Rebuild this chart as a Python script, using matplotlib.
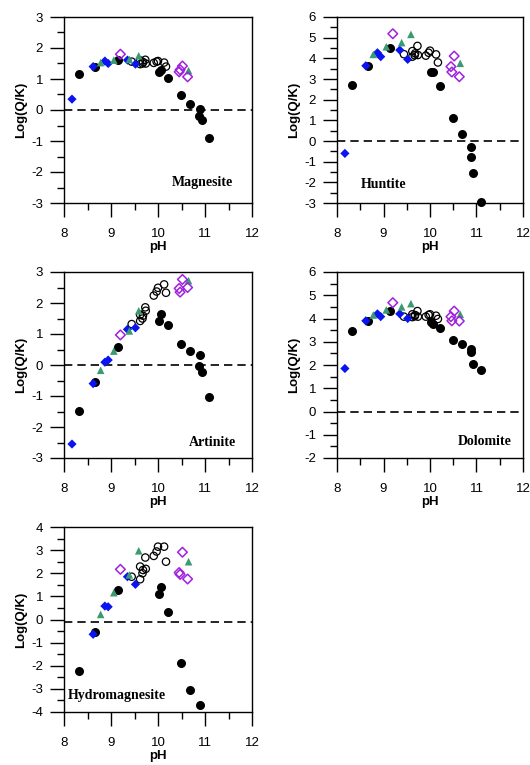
import numpy as np
import matplotlib
matplotlib.use("Agg")
import matplotlib.pyplot as plt
from matplotlib.ticker import MultipleLocator

plt.rcParams["font.family"] = ["Liberation Sans", "DejaVu Sans"]
plt.rcParams["axes.unicode_minus"] = False

nan = np.nan

# pH of each sample group (shared by all panels)
ph_filled = [8.32, 8.67, 9.14, 10.02, 10.07, 10.21, 10.49, 10.69, 10.89, 10.88, 10.93, 11.09]
ph_open = [9.44, 9.62, 9.62, 9.67, 9.68, 9.74, 9.73, 9.91, 9.97, 10.0, 10.13, 10.17]
ph_blue = [8.17, 8.62, 8.87, 8.94, 9.35, 9.52]
ph_green = [8.78, 9.06, 9.39, 9.59, 10.65]
ph_purple = [9.2, 10.45, 10.47, 10.52, 10.63]

# Log(Q/K) per mineral
mag_filled = [1.16, 1.4, 1.61, 1.24, 1.29, 1.02, 0.49, 0.18, 0.02, -0.19, -0.32, -0.89]
mag_open = [1.56, 1.48, 1.6, 1.5, 1.55, 1.5, 1.62, 1.52, 1.56, 1.58, 1.53, 1.4]
mag_blue = [0.35, 1.4, 1.58, 1.5, 1.61, 1.48]
mag_green = [1.53, 1.61, 1.63, 1.75, 1.27]
mag_purple = [1.8, 1.23, 1.3, 1.42, 1.07]

hun_filled = [2.71, 3.64, 4.48, 3.32, 3.32, 2.68, 1.1, 0.32, -0.27, -0.76, -1.55, -2.94]
hun_open = [4.2, 4.08, 4.35, 4.15, 4.24, 4.16, 4.6, 4.13, 4.27, 4.37, 4.19, 3.8]
hun_blue = [-0.6, 3.64, 4.27, 4.08, 4.4, 3.95]
hun_green = [4.19, 4.56, 4.76, 5.16, 3.76]
hun_purple = [5.19, 3.6, 3.34, 4.11, 3.11]

art_filled = [-1.47, -0.54, 0.59, 1.42, 1.65, 1.29, 0.68, 0.45, 0.32, -0.02, -0.21, -1.04]
art_open = [1.32, 1.42, 1.62, 1.5, 1.59, 1.75, 1.86, 2.24, 2.37, 2.49, 2.6, 2.33]
art_blue = [-2.55, -0.6, 0.09, 0.16, 1.15, 1.2]
art_green = [-0.17, 0.45, 1.1, 1.75, 2.72]
art_purple = [0.97, 2.47, 2.35, 2.76, 2.5]

dol_filled = [3.46, 3.9, 4.32, 3.84, 3.75, 3.6, 3.07, 2.9, 2.68, 2.57, 2.06, 1.78]
dol_open = [4.08, 4.06, 4.18, 4.1, 4.15, 4.08, 4.32, 4.08, 4.15, 4.18, 4.12, 3.98]
dol_blue = [1.85, 3.9, 4.2, 4.08, 4.2, 4.0]
dol_green = [4.15, 4.37, 4.5, 4.64, 4.18]
dol_purple = [4.68, 4.08, 3.9, 4.32, 3.89]

hyd_filled = [-2.23, -0.53, 1.28, 1.09, 1.39, 0.32, -1.9, -3.04, -3.7, nan, nan, nan]
hyd_open = [1.85, 1.74, 2.29, 2.0, 2.14, 2.19, 2.68, 2.75, 2.94, 3.15, 3.15, 2.5]
hyd_blue = [nan, -0.64, 0.58, 0.55, 1.85, 1.52]
hyd_green = [0.22, 1.16, 1.93, 2.97, 2.5]
hyd_purple = [2.17, 2.03, 1.95, 2.91, 1.75]

panels = [
    ("Magnesite", (mag_filled, mag_open, mag_blue, mag_green, mag_purple), (-3, 3), 0.0, (0.734, 0.108)),
    ("Huntite", (hun_filled, hun_open, hun_blue, hun_green, hun_purple), (-3, 6), 0.0, (0.25, 0.097)),
    ("Artinite", (art_filled, art_open, art_blue, art_green, art_purple), (-3, 3), 0.0, (0.79, 0.086)),
    ("Dolomite", (dol_filled, dol_open, dol_blue, dol_green, dol_purple), (-2, 6), 0.0, (0.796, 0.091)),
    ("Hydromagnesite", (hyd_filled, hyd_open, hyd_blue, hyd_green, hyd_purple), (-4, 4), -0.1, (0.28, 0.091)),
]

W, H = 530, 765
boxes = [(64, 17, 188, 186), (337, 17, 186, 186),
         (64, 272, 188, 186), (337, 272, 186, 186),
         (64, 527, 188, 185)]

fig = plt.figure(figsize=(W / 100, H / 100), dpi=100)

for (name, series, ylim, ref, txtpos), (bx, by, bw, bh) in zip(panels, boxes):
    ax = fig.add_axes([bx / W, 1 - (by + bh) / H, bw / W, bh / H])
    filled, opened, blue, green, purple = series
    ax.axhline(ref, color="black", lw=1.2, ls=(0, (5, 3)), zorder=1)
    ax.scatter(ph_filled, filled, s=30, c="black", zorder=3, clip_on=False)
    ax.scatter(ph_open, opened, s=28, facecolors="none", edgecolors="black", linewidths=0.9, zorder=3)
    ax.scatter(ph_blue, blue, s=22, marker="D", c="#0a14f0", edgecolors="none", zorder=4)
    ax.scatter(ph_green, green, s=30, marker="^", c="#3a9a70", edgecolors="none", zorder=4)
    ax.scatter(ph_purple, purple, s=24, marker="D", facecolors="none", edgecolors="#a020e0",
               linewidths=1.1, zorder=4)
    ax.set_xlim(8, 12)
    ax.set_ylim(*ylim)
    ax.xaxis.set_major_locator(MultipleLocator(1))
    ax.xaxis.set_minor_locator(MultipleLocator(0.5))
    ax.yaxis.set_major_locator(MultipleLocator(1))
    ax.yaxis.set_minor_locator(MultipleLocator(0.5))
    ax.tick_params(which="major", direction="out", length=10, width=1, labelsize=9.5, pad=5)
    ax.tick_params(which="minor", direction="out", length=5, width=1)
    ax.tick_params(axis="x", which="major", pad=8)
    for sp in ax.spines.values():
        sp.set_linewidth(1)
    ax.set_xlabel("pH", fontsize=9.5, fontweight="bold", labelpad=1)
    ax.set_ylabel("Log(Q/K)", fontsize=9.5, fontweight="bold", labelpad=3)
    ax.text(txtpos[0], txtpos[1], name, transform=ax.transAxes, ha="center", va="center",
            fontsize=10, fontweight="bold", family="Liberation Serif")

fig.savefig("out.png", dpi=100)
